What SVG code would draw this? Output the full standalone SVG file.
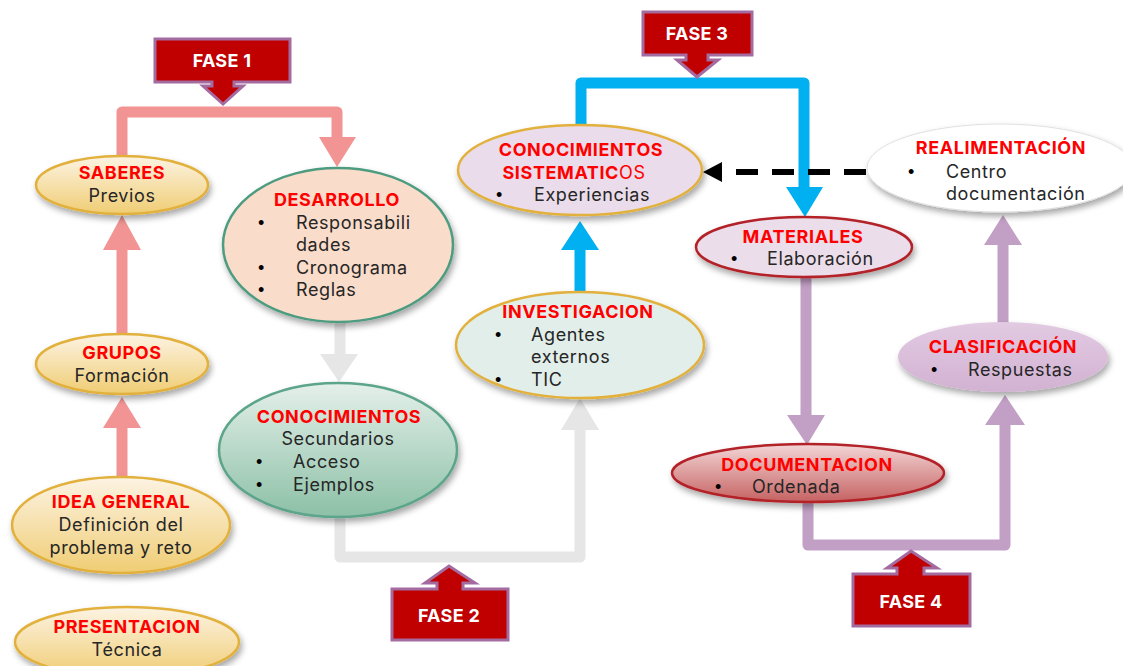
<svg xmlns="http://www.w3.org/2000/svg" width="1123" height="666" viewBox="0 0 1123 666">
<style>
.t{font-family:Inter,"Liberation Sans",sans-serif;font-size:18px;fill:#262626;letter-spacing:0.6px}
.h{fill:#FF0000;font-weight:bold;text-anchor:middle}
.c{text-anchor:middle}
.bl{font-family:"Liberation Sans",sans-serif;font-size:18px;fill:#000;letter-spacing:0}
.f{font-family:Inter,"Liberation Sans",sans-serif;font-size:18px;font-weight:bold;fill:#FFFFFF;text-anchor:middle;letter-spacing:0.3px}
.call{fill:#C00000;stroke:#A46BA0;stroke-width:3;stroke-linejoin:miter}
.ln{fill:none;stroke-width:11;stroke-linejoin:round;stroke-linecap:round}
</style>
<defs>
<filter id="sh" x="-20%" y="-20%" width="140%" height="150%">
<feDropShadow dx="2" dy="4" stdDeviation="3" flood-color="#000" flood-opacity="0.35"/>
</filter>
<linearGradient id="gold" x1="0" y1="0" x2="0" y2="1">
<stop offset="0" stop-color="#FCF3E3"/><stop offset="1" stop-color="#F0CD74"/>
</linearGradient>
<linearGradient id="green" x1="0" y1="0" x2="0" y2="1">
<stop offset="0" stop-color="#E4F0EA"/><stop offset="1" stop-color="#8CC0A6"/>
</linearGradient>
<linearGradient id="red" x1="0" y1="0" x2="0" y2="1">
<stop offset="0" stop-color="#F3D6D6"/><stop offset="1" stop-color="#C66262"/>
</linearGradient>
<linearGradient id="lil" x1="0" y1="0" x2="0" y2="1">
<stop offset="0" stop-color="#E2CAE2"/><stop offset="1" stop-color="#D2B2D2"/>
</linearGradient>
</defs>

<g id="connectors">
<path class="ln" stroke="#F29494" d="M122,155 V112 H337 V138"/>
<polygon fill="#F29494" points="319,137 356,137 337,167"/>
<path class="ln" stroke="#F29494" d="M122,335 V248"/>
<polygon fill="#F29494" points="103,250 141,250 122,215"/>
<path class="ln" stroke="#F29494" d="M122,478 V426"/>
<polygon fill="#F29494" points="103,428 141,428 122,397"/>
<path class="ln" stroke="#E6E6E6" d="M340,322 V356"/>
<polygon fill="#E6E6E6" points="320,354 358,354 339,382"/>
<path class="ln" stroke="#E6E6E6" d="M340,518 V557 H580 V428"/>
<polygon fill="#E6E6E6" points="561,430 599,430 580,398"/>
<path class="ln" stroke="#00B0F0" d="M581,127 V83 H804 V189"/>
<polygon fill="#00B0F0" points="786,187 823,187 805,217"/>
<path class="ln" stroke="#00B0F0" d="M580,295 V248"/>
<polygon fill="#00B0F0" points="561,250 599,250 580,221"/>
<path fill="none" stroke="#000" stroke-width="6" stroke-dasharray="22 14" d="M866,172 H718"/>
<polygon fill="#000" points="722,162 722,182 703,172"/>
<path class="ln" stroke="#C29FC5" d="M806,278 V417"/>
<polygon fill="#C29FC5" points="787,415 825,415 807,445"/>
<path class="ln" stroke="#C29FC5" d="M808,502 V545 H1005 V423"/>
<polygon fill="#C29FC5" points="985,425 1025,425 1005,395"/>
<path class="ln" stroke="#C29FC5" d="M1003,322 V243"/>
<polygon fill="#C29FC5" points="984,245 1022,245 1003,215"/>
</g>

<g id="fase1">
<path class="call" d="M155,39 H290 V82 H234 V86 H243 L223,104 L203,86 H212 V82 H155 Z"/>
<text class="f" x="222" y="67">FASE 1</text>
</g>
<g id="fase2">
<path class="call" d="M392,640 H508 V589 H463 V583 H475 L449,566 L425,583 H437 V589 H392 Z"/>
<text class="f" x="449" y="622">FASE 2</text>
</g>
<g id="fase3">
<path class="call" d="M643,12 H752 V55 H708 V60 H718 L697,77 L677,60 H686 V55 H643 Z"/>
<text class="f" x="697" y="40">FASE 3</text>
</g>
<g id="fase4">
<path class="call" d="M853,626 H970 V574 H924 V568 H937 L911,551 L887,568 H897 V574 H853 Z"/>
<text class="f" x="911" y="608">FASE 4</text>
</g>

<g id="saberes">
<ellipse cx="122" cy="185" rx="86" ry="29" fill="url(#gold)" stroke="#E2B13C" stroke-width="2.5" filter="url(#sh)"/>
<text class="t"><tspan class="h" x="122" y="179">SABERES</tspan><tspan class="c" x="122" y="202">Previos</tspan></text>
</g>
<g id="grupos">
<ellipse cx="122" cy="364" rx="86" ry="30" fill="url(#gold)" stroke="#E2B13C" stroke-width="2.5" filter="url(#sh)"/>
<text class="t"><tspan class="h" x="122" y="359">GRUPOS</tspan><tspan class="c" x="122" y="382">Formación</tspan></text>
</g>
<g id="idea">
<ellipse cx="121" cy="525" rx="109" ry="48" fill="url(#gold)" stroke="#E2B13C" stroke-width="2.5" filter="url(#sh)"/>
<text class="t"><tspan class="h" x="121" y="508">IDEA GENERAL</tspan><tspan class="c" x="121" y="531">Definición del</tspan><tspan class="c" x="121" y="554">problema y reto</tspan></text>
</g>
<g id="presentacion">
<ellipse cx="127" cy="642" rx="112" ry="35" fill="url(#gold)" stroke="#E2B13C" stroke-width="2.5" filter="url(#sh)"/>
<text class="t"><tspan class="h" x="127" y="633">PRESENTACION</tspan><tspan class="c" x="127" y="656">Técnica</tspan></text>
</g>

<g id="desarrollo">
<ellipse cx="338" cy="245" rx="115" ry="77" fill="#FADCCB" stroke="#4E9C80" stroke-width="2.5" filter="url(#sh)"/>
<text class="t"><tspan class="h" x="337" y="206">DESARROLLO</tspan><tspan class="bl" x="258" y="229">•</tspan><tspan x="296" y="229">Responsabili</tspan><tspan x="296" y="251">dades</tspan><tspan class="bl" x="258" y="274">•</tspan><tspan x="296" y="274">Cronograma</tspan><tspan class="bl" x="258" y="296">•</tspan><tspan x="296" y="296">Reglas</tspan></text>
</g>

<g id="conocimientos-secundarios">
<ellipse cx="338" cy="450" rx="119" ry="67" fill="url(#green)" stroke="#5BA58B" stroke-width="2.5" filter="url(#sh)"/>
<text class="t"><tspan class="h" x="339" y="423">CONOCIMIENTOS</tspan><tspan class="c" x="338" y="445">Secundarios</tspan><tspan class="bl" x="256" y="468">•</tspan><tspan x="293" y="468">Acceso</tspan><tspan class="bl" x="256" y="491">•</tspan><tspan x="293" y="491">Ejemplos</tspan></text>
</g>

<g id="conocimientos-sistematicos">
<ellipse cx="580" cy="170" rx="122" ry="45" fill="#EADCEA" stroke="#E2B13C" stroke-width="2.5" filter="url(#sh)"/>
<text class="t"><tspan class="h" x="581" y="156">CONOCIMIENTOS</tspan><tspan class="h" x="574" y="179">SISTEMATIC<tspan font-weight="normal">OS</tspan></tspan><tspan class="bl" x="496" y="201">•</tspan><tspan x="534" y="201">Experiencias</tspan></text>
</g>

<g id="investigacion">
<ellipse cx="580" cy="345" rx="124" ry="53" fill="#E2EEE9" stroke="#E2B13C" stroke-width="2.5" filter="url(#sh)"/>
<text class="t"><tspan class="h" x="578" y="318">INVESTIGACION</tspan><tspan class="bl" x="495" y="341">•</tspan><tspan x="531" y="341">Agentes</tspan><tspan x="531" y="363">externos</tspan><tspan class="bl" x="495" y="386">•</tspan><tspan x="531" y="386">TIC</tspan></text>
</g>

<g id="realimentacion">
<ellipse cx="1000" cy="168" rx="133" ry="44" fill="#FFFFFF" stroke="#E0E0E0" stroke-width="1" filter="url(#sh)"/>
<text class="t"><tspan class="h" x="1001" y="154">REALIMENTACIÓN</tspan><tspan class="bl" x="908" y="178">•</tspan><tspan x="946" y="178">Centro</tspan><tspan x="946" y="200">documentación</tspan></text>
</g>

<g id="materiales">
<ellipse cx="804" cy="247" rx="108" ry="30" fill="#ECDDEA" stroke="#B22028" stroke-width="2.5" filter="url(#sh)"/>
<text class="t"><tspan class="h" x="803" y="243">MATERIALES</tspan><tspan class="bl" x="731" y="265">•</tspan><tspan x="767" y="265">Elaboración</tspan></text>
</g>

<g id="documentacion">
<ellipse cx="808" cy="473" rx="136" ry="29" fill="url(#red)" stroke="#B22028" stroke-width="2.5" filter="url(#sh)"/>
<text class="t"><tspan class="h" x="807" y="471">DOCUMENTACION</tspan><tspan class="bl" x="715" y="493">•</tspan><tspan x="752" y="493">Ordenada</tspan></text>
</g>

<g id="clasificacion">
<ellipse cx="1003" cy="357" rx="105" ry="35" fill="url(#lil)" filter="url(#sh)"/>
<text class="t"><tspan class="h" x="1003" y="353">CLASIFICACIÓN</tspan><tspan class="bl" x="931" y="376">•</tspan><tspan x="968" y="376">Respuestas</tspan></text>
</g>
</svg>
